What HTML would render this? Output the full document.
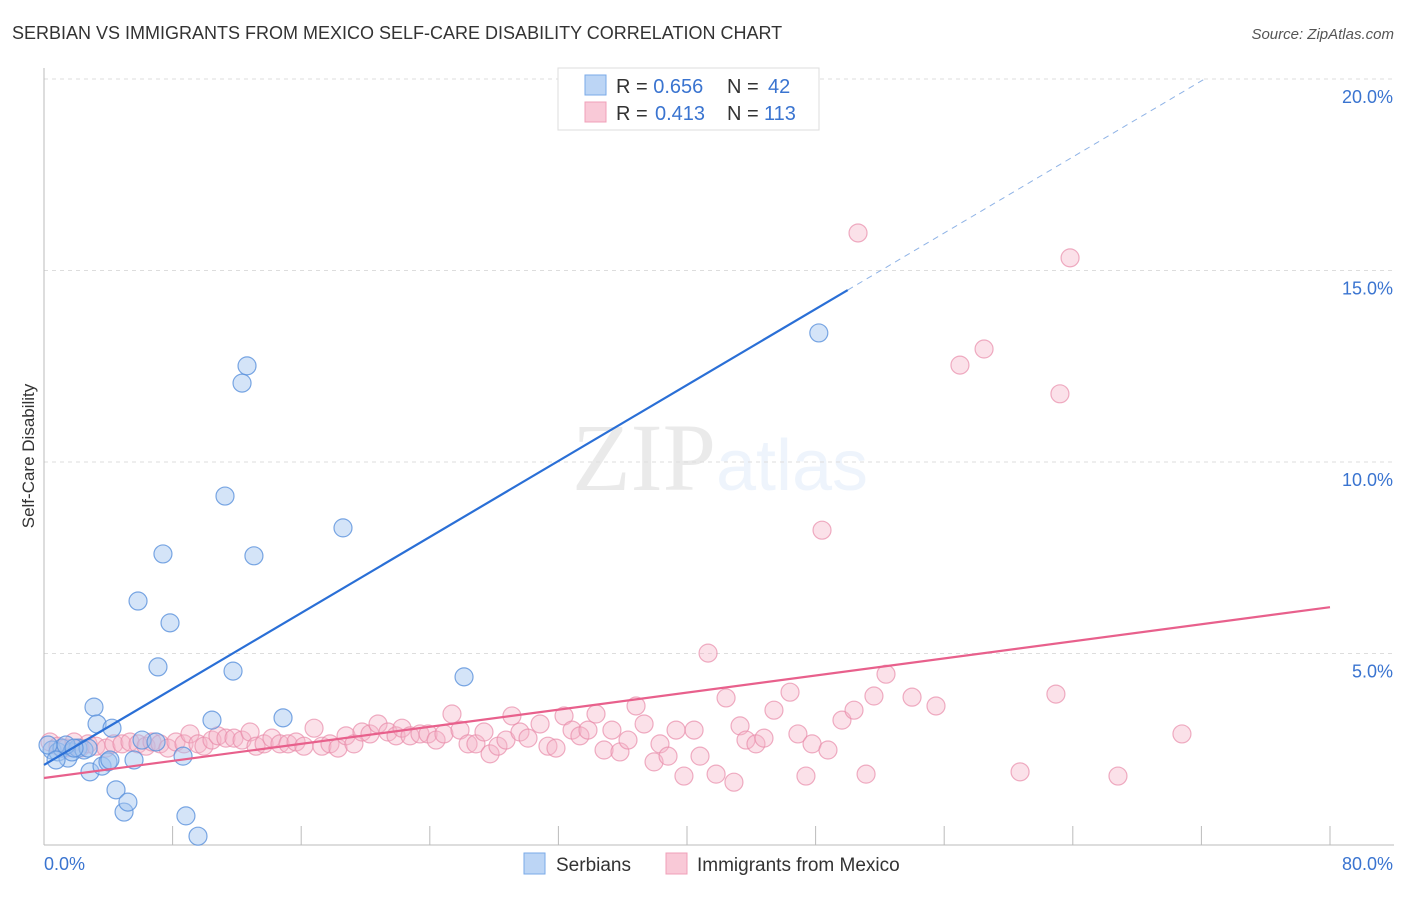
<!DOCTYPE html>
<html><head><meta charset="utf-8"><style>
body{margin:0;background:#fff;font-family:"Liberation Sans",sans-serif}
</style></head><body>
<svg id="c" width="1406" height="892" xmlns="http://www.w3.org/2000/svg" font-family="Liberation Sans, sans-serif">
<text x="12" y="39" font-size="18" fill="#333">SERBIAN VS IMMIGRANTS FROM MEXICO SELF-CARE DISABILITY CORRELATION CHART</text>
<text x="1394" y="39" font-size="15" fill="#555" text-anchor="end" font-style="italic">Source: ZipAtlas.com</text>
<text x="720" y="490" font-size="96" text-anchor="middle" fill="#000" opacity="0.08" font-family="Liberation Serif, serif">ZIP<tspan fill="#3b7ddd" opacity="1" font-family="Liberation Sans, sans-serif" font-size="72">atlas</tspan></text>
<text transform="translate(34,456) rotate(-90)" font-size="17" fill="#333" text-anchor="middle">Self-Care Disability</text>
<g id="grid"></g><g id="axes"></g><g id="pts"></g><g id="trend"></g>
<g>
<rect x="558" y="68" width="261" height="62" fill="#fff" stroke="#ddd"/>
<rect x="585" y="75" width="21" height="20" fill="#bcd5f5" stroke="#7aaae8"/>
<rect x="585" y="102" width="21" height="20" fill="#f9c9d7" stroke="#f0a0b8"/>
<text x="616" y="93" font-size="20" fill="#333">R = <tspan fill="#3a74d0">0.656</tspan><tspan x="727">N = </tspan><tspan fill="#3a74d0" x="768">42</tspan></text>
<text x="616" y="120" font-size="20" fill="#333">R = <tspan fill="#3a74d0" x="655">0.413</tspan><tspan x="727">N = </tspan><tspan fill="#3a74d0" x="764">113</tspan></text>
</g>
<g>
<rect x="524" y="853" width="21" height="21" fill="#bcd5f5" stroke="#7aaae8"/>
<text x="556" y="871" font-size="19" fill="#333">Serbians</text>
<rect x="666" y="853" width="21" height="21" fill="#f9c9d7" stroke="#f0a0b8"/>
<text x="697" y="871" font-size="19" fill="#333">Immigrants from Mexico</text>
</g>
</svg>
<script>
const blueX=[0.5,0.87,1.12,1.49,1.74,2.11,2.49,2.74,2.86,3.11,3.3,3.61,3.98,4.23,4.1,4.48,4.98,5.22,5.6,5.85,6.1,6.97,7.4,7.84,7.09,8.65,8.83,9.58,10.45,11.26,11.76,12.32,12.63,13.06,14.87,18.6,26.13,48.2,0.25,0.75,1.37,1.87];
const blueY=[2.48,2.43,2.53,2.27,2.43,2.53,2.48,2.53,1.91,3.6,3.16,2.06,2.17,3.05,2.22,1.44,0.86,1.12,2.22,6.37,2.74,2.69,7.6,5.8,4.65,2.32,0.76,0.23,3.26,9.11,4.54,12.06,12.51,7.55,3.32,8.28,4.39,13.37,2.61,2.22,2.61,2.53];
const pinkX=[0.37,0.87,1.37,1.87,2.24,2.74,3.23,3.86,4.35,4.85,5.35,5.85,6.35,6.72,7.22,7.71,8.21,8.71,9.08,9.58,9.95,10.45,10.82,11.32,11.82,12.32,12.82,13.19,13.69,14.18,14.68,15.18,15.68,16.17,16.8,17.29,17.79,18.29,18.79,19.28,19.78,20.28,20.78,21.4,21.9,22.27,22.77,23.39,23.89,24.39,24.88,25.38,25.88,26.38,26.87,27.37,27.75,28.24,28.74,29.11,29.61,30.11,30.86,31.35,31.85,32.35,32.85,33.34,33.84,34.34,34.84,35.33,35.83,36.33,36.83,37.33,37.95,38.32,38.82,39.32,39.81,40.44,40.81,41.31,41.81,42.43,42.92,43.3,43.67,44.29,44.79,45.41,46.41,46.9,47.4,47.78,48.77,49.64,50.39,50.64,51.14,51.63,52.38,54.0,55.49,56.98,58.48,60.72,62.95,63.2,63.83,66.81,70.79,48.4];
const pinkY=[2.69,2.58,2.53,2.69,2.53,2.64,2.58,2.53,2.64,2.64,2.69,2.64,2.58,2.69,2.64,2.53,2.69,2.64,2.9,2.64,2.58,2.74,2.85,2.79,2.79,2.74,2.95,2.58,2.64,2.79,2.64,2.64,2.69,2.58,3.05,2.58,2.64,2.53,2.85,2.64,2.95,2.9,3.16,2.95,2.85,3.05,2.85,2.9,2.9,2.74,2.9,3.42,3.0,2.64,2.64,2.95,2.38,2.58,2.74,3.37,2.95,2.79,3.16,2.58,2.53,3.37,3.0,2.85,3.0,3.42,2.48,3.0,2.43,2.74,3.63,3.16,2.17,2.64,2.32,3.0,1.8,3.0,2.32,5.01,1.85,3.84,1.64,3.11,2.74,2.64,2.79,3.52,3.99,2.9,1.8,2.64,2.48,3.26,3.52,15.98,1.85,3.89,4.46,3.86,3.63,12.53,12.95,1.91,3.94,11.78,15.33,1.8,2.9,8.22];
const yTicks=[5,10,15,20];
const yTickLabels=["5.0%","10.0%","15.0%","20.0%"];
const xTicks=[0,8,16,24,32,40,48,56,64,72,80];
const blueTrend=[[0,2.09],[50,14.49],[72.2,20.0]];
const pinkTrend=[[0,1.75],[80,6.21]];
const X0=44,X1=1330,Y0=845,PY=38.3;
const sx=v=>X0+(v/80)*(X1-X0), sy=v=>Y0-v*PY;
const NS="http://www.w3.org/2000/svg";
function mk(t,a,p){const e=document.createElementNS(NS,t);for(const k in a)e.setAttribute(k,a[k]);p.appendChild(e);return e;}
const grid=document.getElementById('grid'),axes=document.getElementById('axes'),pts=document.getElementById('pts'),tr=document.getElementById('trend');
yTicks.forEach((v,i)=>{
 const l=mk('line',{x1:X0,x2:1394,y1:sy(v),y2:sy(v),stroke:'#ddd','stroke-dasharray':'4,4'},grid);
 
 
 const t=mk('text',{x:1393,y:sy(v)+24,'font-size':18,fill:'#3a74d0','text-anchor':'end'},axes);
 t.textContent=yTickLabels[i];
 
 
});
const ax=mk('line',{x1:X0,x2:X0,y1:68,y2:Y0,stroke:'#bbb'},axes);


const bx=mk('line',{x1:X0,x2:1394,y1:Y0,y2:Y0,stroke:'#bbb'},axes);


xTicks.forEach(v=>{
 const t=mk('line',{x1:sx(v),x2:sx(v),y1:Y0-19,y2:Y0,stroke:'#bbb'},axes);
 
 
});
const xl0=mk('text',{x:44,y:870,'font-size':18,fill:'#3a74d0'},axes);xl0.textContent='0.0%';


const xl1=mk('text',{x:1393,y:870,'font-size':18,fill:'#3a74d0','text-anchor':'end'},axes);xl1.textContent='80.0%';


pinkX.forEach((v,i)=>{
 const c=mk('circle',{cx:sx(v),cy:sy(pinkY[i]),r:9,fill:'rgba(246,180,200,0.4)',stroke:'rgba(232,140,170,0.7)','stroke-width':1.2},pts);
 
 
});
blueX.forEach((v,i)=>{
 const c=mk('circle',{cx:sx(v),cy:sy(blueY[i]),r:9,fill:'rgba(160,196,240,0.45)',stroke:'rgba(90,145,220,0.8)','stroke-width':1.2},pts);
 
 
});
const b1=mk('line',{x1:sx(blueTrend[0][0]),y1:sy(blueTrend[0][1]),x2:sx(blueTrend[1][0]),y2:sy(blueTrend[1][1]),stroke:'#2a6fd6','stroke-width':2.2},tr);


const b2=mk('line',{x1:sx(blueTrend[1][0]),y1:sy(blueTrend[1][1]),x2:sx(blueTrend[2][0]),y2:sy(blueTrend[2][1]),stroke:'#8fb3e6','stroke-width':1,'stroke-dasharray':'6,5'},tr);


const p1=mk('line',{x1:sx(pinkTrend[0][0]),y1:sy(pinkTrend[0][1]),x2:sx(pinkTrend[1][0]),y2:sy(pinkTrend[1][1]),stroke:'#e8608c','stroke-width':2.2},tr);


</script>
</body></html>
